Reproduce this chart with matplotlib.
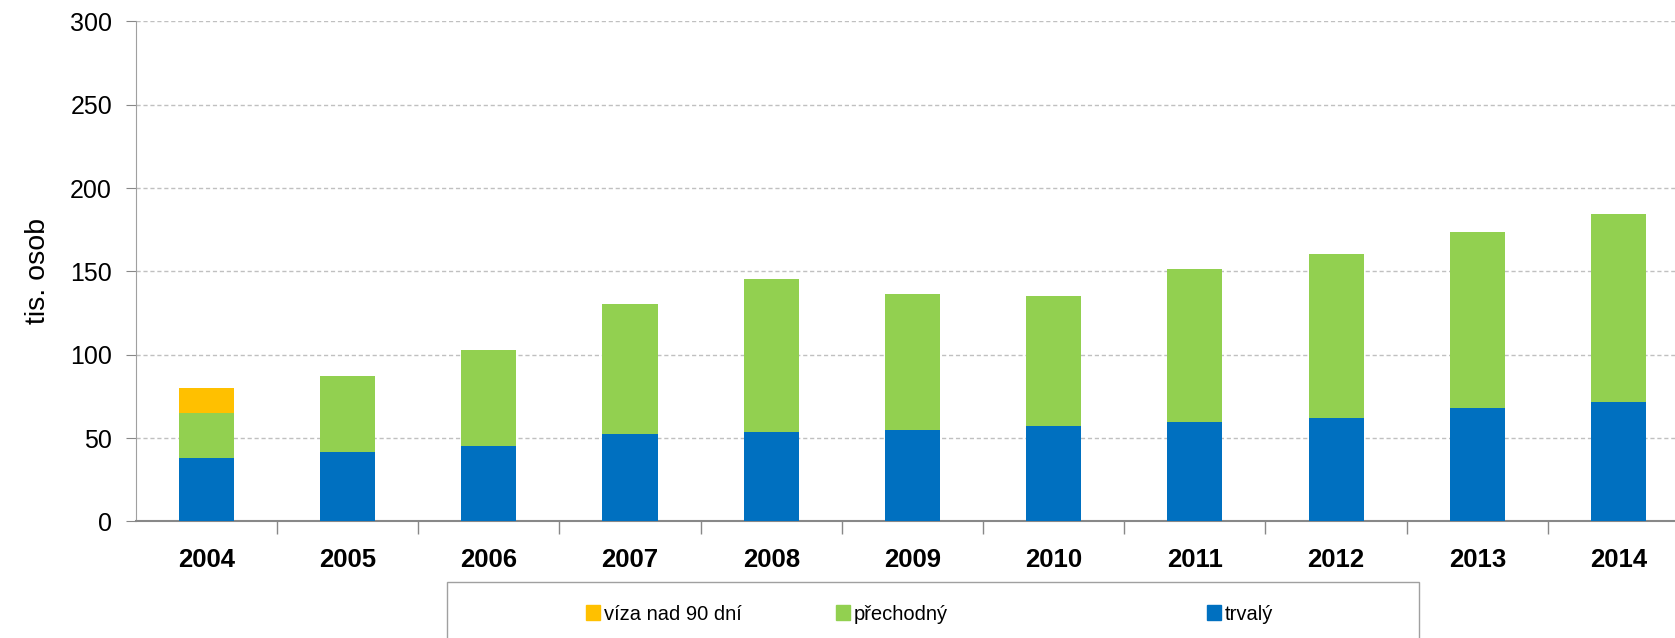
import matplotlib
matplotlib.use("Agg")
import matplotlib.pyplot as plt
from matplotlib.patches import Patch, Rectangle
import numpy as np

plt.rcParams['font.family'] = ['Liberation Sans', 'DejaVu Sans']

years = ['2004', '2005', '2006', '2007', '2008', '2009', '2010', '2011', '2012', '2013', '2014']
trvaly = [38.2, 41.9, 45.0, 52.7, 53.7, 54.9, 57.4, 59.9, 62.0, 68.2, 71.4]
prechodny = [26.6, 45.5, 57.6, 77.6, 91.9, 81.6, 77.6, 91.3, 98.3, 105.3, 113.0]
viza = [15.3, 0, 0, 0, 0, 0, 0, 0, 0, 0, 0]

c_blue = '#0070C0'
c_green = '#92D050'
c_orange = '#FFC000'

W, H = 1675, 638
fig = plt.figure(figsize=(W / 100, H / 100), dpi=100)
ax = fig.add_axes([135.7 / W, 1 - 521.4 / H, 1 - 135.7 / W, 500 / H])

x = np.arange(len(years))
bw = 0.39
bottom2 = np.array(trvaly)
bottom3 = bottom2 + np.array(prechodny)
ax.bar(x, trvaly, bw, color=c_blue, zorder=3)
ax.bar(x, prechodny, bw, bottom=bottom2, color=c_green, zorder=3)
ax.bar(x, viza, bw, bottom=bottom3, color=c_orange, zorder=3)

ax.set_xlim(-0.5, 10.4)
ax.set_ylim(0, 300)
ax.set_yticks(range(0, 301, 50))
ax.yaxis.grid(True, color='#c0c0c0', linestyle=(0, (3, 2)), linewidth=1)
ax.set_axisbelow(True)

ax.set_xticks(x)
ax.set_xticklabels(years, fontweight='bold', fontsize=18.5)
ax.set_xticks(np.arange(0.5, 10.5, 1), minor=True)
ax.tick_params(axis='x', which='major', length=0, pad=19)
ax.tick_params(axis='x', which='minor', length=9, color='#888888', width=1)
ax.tick_params(axis='y', length=7, color='#888888', labelsize=18, pad=10)

for s in ['top', 'right']:
    ax.spines[s].set_visible(False)
ax.spines['left'].set_color('#a0a0a0')
ax.spines['bottom'].set_color('#888888')
ax.spines['bottom'].set_linewidth(1.5)

ax.set_ylabel('tis. osob', fontsize=20.5, labelpad=14)

# legend box, cut at the bottom edge
fig.patches.append(Rectangle((446.6 / W, -0.05), (1418.8 - 446.6) / W, 0.05 + 1 - 582 / H,
                             transform=fig.transFigure, facecolor='white',
                             edgecolor='#a0a0a0', linewidth=1))

items = [('víza nad 90 dní', c_orange, 586), ('přechodný', c_green, 836), ('trvalý', c_blue, 1207)]
for label, col, px in items:
    fig.legend(handles=[Patch(color=col)], labels=[label], loc='center left',
               bbox_to_anchor=(px / W, 1 - 614 / H), frameon=False, fontsize=14.5,
               handlelength=0.7, handleheight=0.7, handletextpad=0.2, borderpad=0,
               borderaxespad=0)

fig.savefig('out.png', dpi=100)
